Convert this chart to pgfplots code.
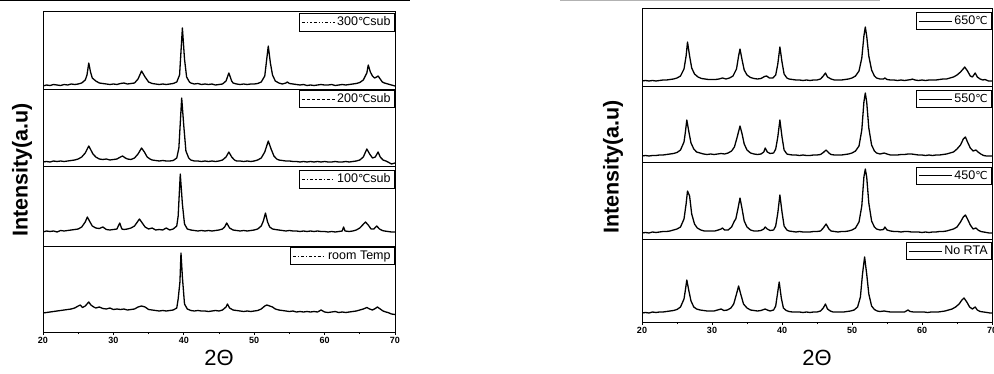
\documentclass[border=0pt]{standalone}
\usepackage{pgfplots}
\pgfplotsset{compat=1.18}
\usepackage{fontspec}
\setmainfont{Liberation Sans}
\newfontfamily\dv{DejaVu Sans}
\newcommand{\dC}{{\dv\fontsize{11}{11}\selectfont ℃}}
\pgfplotsset{
  sub/.style={scale only axis, xmin=20, xmax=70, ymin=0,
    xtick=\empty, ytick=\empty,
    axis line style={line width=0.9pt, black},
    every axis plot/.append style={line width=1.3pt, black, mark=none, line join=round},
    legend style={draw=black, line width=0.8pt, font=\fontsize{12.5}{13}\selectfont,
      inner xsep=2pt, inner ysep=1.5pt, anchor=north east, legend cell align=left, fill=white},
    legend image code/.code={\draw[#1] (0pt,0pt) -- (33pt,0pt);}},
  bot/.style={xtick={20,30,40,50,60,70}, minor xtick={25,35,45,55,65}, xtick pos=left,
    tick align=outside, major tick length=3pt, minor tick length=2pt,
    tick style={line width=0.8pt, black},
    /pgf/number format/assume math mode=true,
    xticklabel style={font=\bfseries\fontsize{9}{9}\selectfont, yshift=1pt}},
}
\begin{document}
\begin{tikzpicture}
\useasboundingbox (0pt,0pt) rectangle (994pt,373pt);
\draw[line width=2pt] (0pt,372.5pt) -- (170pt,372.5pt);
\draw[line width=1pt] (170pt,372.5pt) -- (410pt,372.5pt);
\draw[line width=1pt, gray!60] (560pt,372.5pt) -- (880pt,372.5pt);
% ---------------- LEFT PANEL ----------------
\begin{axis}[sub, at={(43pt,284pt)}, anchor=south west, width=352pt, height=78pt, ymax=78,
  legend style={at={(1,0.975)}}]
\addlegendimage{dash dot dot, black, line width=0.6pt}
\addlegendentry{300\dC sub}
\addplot[forget plot] coordinates {(20,3) (20.5,4) (21,3.5) (21.5,4.5) (22,4) (22.5,3.5) (23,4.5) (23.5,4) (24,5) (24.5,4.5) (25,5) (25.5,6) (26,9) (26.25,14) (26.5,26) (26.75,17) (27,11) (27.5,8) (28,6) (28.5,5.5) (29,5) (29.5,4.5) (30,5) (30.5,4.5) (31,5.5) (31.5,6) (32,5) (32.5,5.5) (33,6) (33.5,10) (34,18) (34.5,12) (35,7) (35.5,5.5) (36,5) (36.5,4.5) (37,5) (37.5,4.5) (38,5) (38.5,5.5) (39,7) (39.4,14) (39.8,61) (40.1,30) (40.4,12) (40.8,7) (41,6) (41.5,5) (42,5.5) (42.5,4.5) (43,5) (43.5,4.5) (44,5) (44.5,4) (45,4.5) (45.5,5) (46,8) (46.4,16) (46.8,8) (47,6) (47.5,5) (48,4.5) (48.5,5) (49,4.5) (49.5,5) (50,5) (50.5,5.5) (51,7) (51.5,13) (52,43) (52.3,26) (52.6,14) (53,8) (53.5,6) (54,5) (54.5,6) (54.7,7) (55,5.5) (55.5,5) (56,4.5) (56.5,4) (57,4.5) (57.5,3.5) (58,4) (58.5,3.5) (59,4) (59.5,4.5) (60,4) (60.5,4) (61,4.5) (61.5,3.5) (62,4) (62.5,4.5) (63,4) (63.5,4.5) (64,5) (64.5,5.5) (65,6.5) (65.5,9) (66,16) (66.2,24) (66.5,17) (66.8,13) (67.1,11) (67.4,12) (67.6,13) (67.9,10) (68.2,7) (68.5,6) (69,5) (69.5,4) (70,3)};
\end{axis}
\begin{axis}[sub, at={(43pt,207pt)}, anchor=south west, width=352pt, height=77pt, ymax=77,
  legend style={at={(1,0.99)}}]
\addlegendimage{densely dashed, black, line width=0.6pt}
\addlegendentry{200\dC sub}
\addplot[forget plot] coordinates {(20,4) (20.5,4.5) (21,4) (21.5,5) (22,4.5) (22.5,5) (23,4.5) (23.5,5) (24,5.5) (24.5,6) (25,7) (25.5,9) (26,13) (26.5,20) (26.8,16) (27.1,12) (27.5,9) (28,7) (28.5,6.5) (29,7) (29.5,6) (30,6.5) (30.5,7) (31,9) (31.3,10) (31.7,8) (32,7) (32.5,6.5) (33,8) (33.5,12) (34,18) (34.4,14) (34.8,9) (35.2,7) (35.5,6) (36,5.5) (36.5,5) (37,5.5) (37.5,5) (38,5) (38.5,5.5) (39,8) (39.3,18) (39.7,68) (40,40) (40.3,15) (40.7,8) (41,6) (41.5,5) (42,5) (42.5,4.5) (43,5) (43.5,4.5) (44,5) (44.5,4.5) (45,5) (45.5,6) (46,9) (46.4,14) (46.8,9) (47.2,6) (47.5,5) (48,5) (48.5,4.5) (49,5) (49.5,4.5) (50,5) (50.5,6) (51,8) (51.5,14) (52,25) (52.4,17) (52.8,10) (53.2,7) (53.5,6) (54,5.5) (54.5,5) (55,5) (55.5,4.5) (56,4.5) (56.5,4) (57,4.5) (57.5,4) (58,4.5) (58.5,4) (59,4.5) (59.5,4) (60,4.5) (60.5,4) (61,4) (61.5,4.5) (62,4) (62.5,4) (63,4.5) (63.5,4) (64,4.5) (64.5,5) (65,6) (65.5,9) (66,17) (66.4,12) (66.8,8) (67.2,9) (67.6,14) (67.9,9) (68.3,6) (68.7,5) (69,4) (69.5,2) (70,3)};
\end{axis}
\begin{axis}[sub, at={(43pt,127pt)}, anchor=south west, width=352pt, height=80pt, ymax=80,
  legend style={at={(1,0.95)}}]
\addlegendimage{dash dot, black, line width=0.6pt}
\addlegendentry{100\dC sub}
\addplot[forget plot] coordinates {(20,14) (20.5,15) (21,14.5) (21.5,15) (22,14) (22.5,15.5) (23,15) (23.5,15.5) (24,16) (24.5,16.5) (25,17) (25.5,19) (26,24) (26.3,29) (26.6,25) (27,20) (27.5,18) (28,17.5) (28.5,19) (29,16.5) (29.5,16) (30,16.5) (30.5,17) (30.9,23) (31.2,17) (31.5,16.5) (32,17) (32.5,18) (33,20) (33.4,24) (33.7,27) (34.1,23) (34.5,19) (35,17) (35.5,18) (36,16) (36.5,16.5) (37,16) (37.5,18) (38,16) (38.5,17) (39,20) (39.2,30) (39.5,72) (39.8,42) (40.1,22) (40.5,17) (41,16) (41.5,15.5) (42,15) (42.5,15.5) (43,15) (43.5,15.5) (44,15) (44.5,15.5) (45,16) (45.5,17) (45.8,19) (46.1,23) (46.5,18) (47,16) (47.5,15.5) (48,15) (48.5,15.5) (49,15) (49.5,15.5) (50,16) (50.5,17) (51,20) (51.3,25) (51.6,33) (51.9,24) (52.2,19) (52.6,17) (53,16.5) (53.5,16) (54,15.5) (54.5,15) (55,15.5) (55.5,15) (56,15) (56.5,14.5) (57,15) (57.5,14.5) (58,15) (58.5,14.5) (59,15) (59.5,14.5) (60,14.5) (60.5,14) (61,14.5) (61.5,14) (62,14.5) (62.5,15) (62.7,19) (62.9,15) (63.5,14.5) (64,15) (64.5,16) (65,18) (65.4,21) (65.8,24) (66.2,21) (66.6,17) (67,17) (67.4,20) (67.8,17) (68.2,15.5) (68.5,15) (69,14.5) (69.5,14) (70,14)};
\end{axis}
\begin{axis}[sub, bot, at={(43pt,41pt)}, anchor=south west, width=352pt, height=86pt, ymax=86,
  legend style={at={(1,0.99)}}]
\addlegendimage{dash dot, black, line width=0.6pt}
\addlegendentry{room Temp}
\addplot[forget plot] coordinates {(20,19) (20.5,19.5) (21,20) (21.5,20.5) (22,21) (22.5,21.5) (23,22) (23.5,22.5) (24,23) (24.5,24) (25,26) (25.3,27) (25.6,24.5) (26,26) (26.5,30) (26.8,27) (27.2,25) (27.5,24) (28,25) (28.5,23.5) (29,23) (29.5,24) (30,22.5) (30.5,23) (31,22.5) (31.5,23) (32,22) (32.5,22.5) (33,23) (33.5,25) (34,26) (34.5,25) (35,22.5) (35.5,22) (36,21.5) (36.5,21) (37,21.5) (37.5,21) (38,21.5) (38.5,22) (39,24) (39.2,33) (39.45,50) (39.6,79) (39.8,55) (40.1,28) (40.5,23) (41,21.5) (41.5,21) (42,21.5) (42.5,21) (43,21) (43.5,20.5) (44,21) (44.5,21.5) (45,21) (45.5,22) (46,25) (46.2,28) (46.5,24) (47,22) (47.5,21.5) (48,21) (48.5,20.5) (49,21) (49.5,20.5) (50,21) (50.5,21.5) (51,23) (51.5,26) (51.8,27) (52.2,26) (52.6,25) (53,23) (53.5,22) (54,21.5) (54.5,21) (55,20.5) (55.5,21) (56,20) (56.5,20.5) (57,20) (57.5,20.5) (58,20) (58.5,20.5) (59,20) (59.5,22) (60,20) (60.5,19.5) (61,20) (61.5,20.5) (62,19.5) (62.5,20) (63,19.5) (63.5,20) (64,20.5) (64.5,21) (65,22) (65.5,23) (66,24.5) (66.4,23) (66.8,22) (67.2,23.5) (67.5,25) (67.9,23) (68.3,21) (68.7,20) (69,19.5) (69.5,18) (70,17.5)};
\end{axis}
\node[rotate=90, font=\bfseries\fontsize{21.5}{22}\selectfont] at (22pt,203pt) {Intensity(a.u)};
\node[font=\fontsize{22}{22}\selectfont] at (219pt,15pt) {2Θ};
% ---------------- RIGHT PANEL ----------------
\begin{axis}[sub, at={(642pt,287pt)}, anchor=south west, width=350pt, height=78pt, ymax=78,
  legend style={at={(1,0.95)}}]
\addlegendimage{solid, black, line width=0.6pt}
\addlegendentry{650\dC}
\addplot[forget plot] coordinates {(20,5) (20.5,5.5) (21,5) (21.5,5.5) (22,5) (22.5,5.5) (23,6) (23.5,6) (24,6.5) (24.5,7) (25,8) (25.5,10) (26,17) (26.3,30) (26.5,44) (26.8,30) (27.1,18) (27.5,12) (28,9) (28.5,7.5) (29,7) (29.5,6.5) (30,6.5) (30.5,6.5) (31,7) (31.5,8) (32,7) (32.5,8) (33,10) (33.5,17) (33.8,30) (34,37) (34.3,26) (34.6,16) (35,11) (35.5,8.5) (36,7.5) (36.5,7) (37,7.5) (37.5,9.5) (37.8,10) (38.2,8) (38.7,8) (39.1,11) (39.4,22) (39.7,39) (40,24) (40.3,12) (40.7,8) (41,7) (41.5,6.5) (42,6) (42.5,6) (43,5.5) (43.5,6) (44,5.5) (44.5,6) (45,6) (45.5,7) (45.9,10) (46.2,13) (46.5,9) (47,7) (47.5,6) (48,6) (48.5,6) (49,6.5) (49.5,7) (50,8) (50.5,10) (51,15) (51.4,28) (51.7,50) (51.9,59) (52.1,50) (52.4,30) (52.8,16) (53.2,10) (53.5,8) (54,7) (54.5,7) (54.7,8) (55,6.5) (55.5,6) (56,6) (56.5,5.5) (57,6) (57.5,5.5) (58,6) (58.5,6.5) (58.6,7) (59,6) (59.5,5.5) (60,6) (60.5,5.5) (61,6) (61.5,6) (62,6) (62.5,6.5) (63,7) (63.5,7) (64,8) (64.5,9) (65,11) (65.5,14) (66,18) (66.1,19) (66.5,15) (66.9,10) (67.2,9) (67.6,13) (67.9,9) (68.3,7) (68.7,6) (69,6.5) (69.5,5) (70,5)};
\end{axis}
\begin{axis}[sub, at={(642pt,211pt)}, anchor=south west, width=350pt, height=76pt, ymax=76,
  legend style={at={(1,0.95)}}]
\addlegendimage{solid, black, line width=0.6pt}
\addlegendentry{550\dC}
\addplot[forget plot] coordinates {(20,6) (20.5,6.5) (21,6) (21.5,6.5) (22,6.5) (22.5,7) (23,7) (23.5,7.5) (24,8) (24.5,8.5) (25,9.5) (25.5,12) (26,20) (26.2,30) (26.4,42) (26.7,30) (27,19) (27.4,13) (27.8,10) (28.3,9) (28.8,8) (29.3,7.5) (29.8,8) (30.3,7.5) (30.8,8) (31.3,8.5) (31.8,8) (32.3,9) (32.8,11) (33.2,15) (33.6,25) (34,36) (34.3,28) (34.6,18) (35,12) (35.5,9) (36,8) (36.5,7.5) (37,8) (37.4,10) (37.6,14) (37.9,10) (38.3,8.5) (38.8,9) (39.1,13) (39.4,25) (39.7,42) (40,25) (40.3,12) (40.7,8) (41,7.5) (41.5,7) (42,7) (42.5,6.5) (43,7) (43.5,6.5) (44,6.5) (44.5,7) (45,7) (45.5,7.5) (45.9,9.5) (46.3,12) (46.7,9) (47,7.5) (47.5,7) (48,7) (48.5,7) (49,7.5) (49.5,8) (50,9) (50.5,11) (51,16) (51.4,32) (51.7,60) (51.9,69) (52.1,60) (52.4,34) (52.8,17) (53.2,11) (53.5,9) (54,8) (54.6,9) (55,8) (55.5,7) (56,7) (56.5,7) (57,7.5) (57.5,7.5) (58,8) (58.5,8) (59,7.5) (59.5,7) (60,7) (60.5,6.5) (61,7) (61.5,6.5) (62,7) (62.5,7) (63,7.5) (63.5,8) (64,9) (64.5,10) (65,13) (65.5,17) (65.9,23) (66.2,25) (66.5,20) (66.9,14) (67.3,11) (67.7,12) (68,10) (68.4,8) (68.8,6.5) (69.2,6) (69.6,6) (70,6)};
\end{axis}
\begin{axis}[sub, at={(642pt,134pt)}, anchor=south west, width=350pt, height=77pt, ymax=77,
  legend style={at={(1,0.94)}}]
\addlegendimage{solid, black, line width=0.6pt}
\addlegendentry{450\dC}
\addplot[forget plot] coordinates {(20,6) (20.5,6.5) (21,6) (21.5,7) (22,6.5) (22.5,7) (23,7.5) (23.5,7.5) (24,8) (24.5,9) (25,10) (25.5,12) (26,20) (26.3,35) (26.5,48) (26.8,43) (27.1,25) (27.5,15) (27.9,11) (28.4,9) (28.9,8) (29.4,8) (29.9,8) (30.4,8) (30.9,9) (31.3,10) (31.5,11) (31.8,9) (32.3,9) (32.8,12) (33.2,18) (33.4,20) (33.7,30) (34,41) (34.3,30) (34.6,18) (35,12) (35.5,9) (36,8) (36.5,8) (37,8.5) (37.4,10) (37.6,12) (37.9,10) (38.3,8.5) (38.8,9) (39.1,13) (39.4,26) (39.7,44) (40,27) (40.3,13) (40.7,9) (41,8) (41.5,7.5) (42,7) (42.5,7.5) (43,7) (43.5,7) (44,7) (44.5,7.5) (45,7.5) (45.5,8) (45.9,11) (46.3,15) (46.7,10) (47,8) (47.5,7.5) (48,7) (48.5,7.5) (49,7.5) (49.5,8) (50,9) (50.5,11) (51,17) (51.4,33) (51.7,62) (51.9,70) (52.1,62) (52.4,36) (52.8,18) (53.2,12) (53.5,10) (54,9) (54.5,9.5) (54.7,12) (55,9) (55.5,8) (56,7.5) (56.5,7.5) (57,7) (57.5,7.5) (58,7.5) (58.5,7) (59,7) (59.5,7) (60,6.5) (60.5,7) (61,6.5) (61.5,7) (62,7) (62.5,7.5) (63,7.5) (63.5,8) (64,9) (64.5,10) (65,12) (65.5,17) (65.9,22) (66.2,24) (66.5,20) (66.9,14) (67.3,10) (67.7,11) (68,9) (68.4,7.5) (68.8,7) (69.2,6.5) (69.6,6) (70,6)};
\end{axis}
\begin{axis}[sub, bot, at={(642pt,51pt)}, anchor=south west, width=350pt, height=83pt, ymax=83,
  legend style={at={(1,0.96)}}]
\addlegendimage{solid, black, line width=0.6pt}
\addlegendentry{No RTA}
\addplot[forget plot] coordinates {(20,9) (20.5,9.5) (21,9) (21.5,10) (22,9.5) (22.5,10) (23,10) (23.5,10.5) (24,11) (24.5,11.5) (25,12.5) (25.5,15) (26,23) (26.2,32) (26.4,42) (26.7,31) (27,21) (27.4,15) (27.8,13) (28.3,12) (28.8,11.5) (29.3,11) (29.8,11) (30.3,11) (30.8,12) (31.3,13) (31.7,11.5) (32.2,12) (32.7,14) (33.1,18) (33.5,28) (33.8,36) (34.1,28) (34.5,18) (35,14) (35.5,12) (36,11.5) (36.5,11) (37,11.5) (37.4,12.5) (37.6,13) (37.9,12) (38.3,11) (38.8,12) (39.1,16) (39.35,28) (39.6,40) (39.9,24) (40.2,14) (40.6,11.5) (41,10.5) (41.5,10) (42,10) (42.5,10) (43,9.5) (43.5,10) (44,9.5) (44.5,10) (45,10) (45.5,11) (45.9,14) (46.2,18) (46.5,13) (46.9,11) (47.3,10) (47.8,10) (48.3,10) (48.8,10) (49.3,10.5) (49.8,11) (50.3,12) (50.8,15) (51.2,25) (51.5,48) (51.8,65) (52.1,48) (52.4,28) (52.8,16) (53.2,12.5) (53.6,11) (54,10.5) (54.6,11) (55,10.5) (55.5,10) (56,10) (56.5,10) (57,10) (57.5,10) (58,12) (58.3,10.5) (58.8,10) (59.3,10) (59.8,10) (60.3,10) (60.8,9.5) (61.3,10) (61.8,10) (62.3,10) (62.8,10.5) (63.3,11) (63.8,12) (64.3,13) (64.8,15) (65.3,18) (65.7,22) (66,24) (66.4,20) (66.8,15) (67.2,13) (67.6,15) (67.9,12) (68.3,10.5) (68.8,10) (69.3,9.5) (69.7,9) (70,9)};
\end{axis}
\node[rotate=90, font=\bfseries\fontsize{21.5}{22}\selectfont] at (613pt,206pt) {Intensity(a.u)};
\node[font=\fontsize{22}{22}\selectfont] at (817pt,15pt) {2Θ};
\end{tikzpicture}
\end{document}
